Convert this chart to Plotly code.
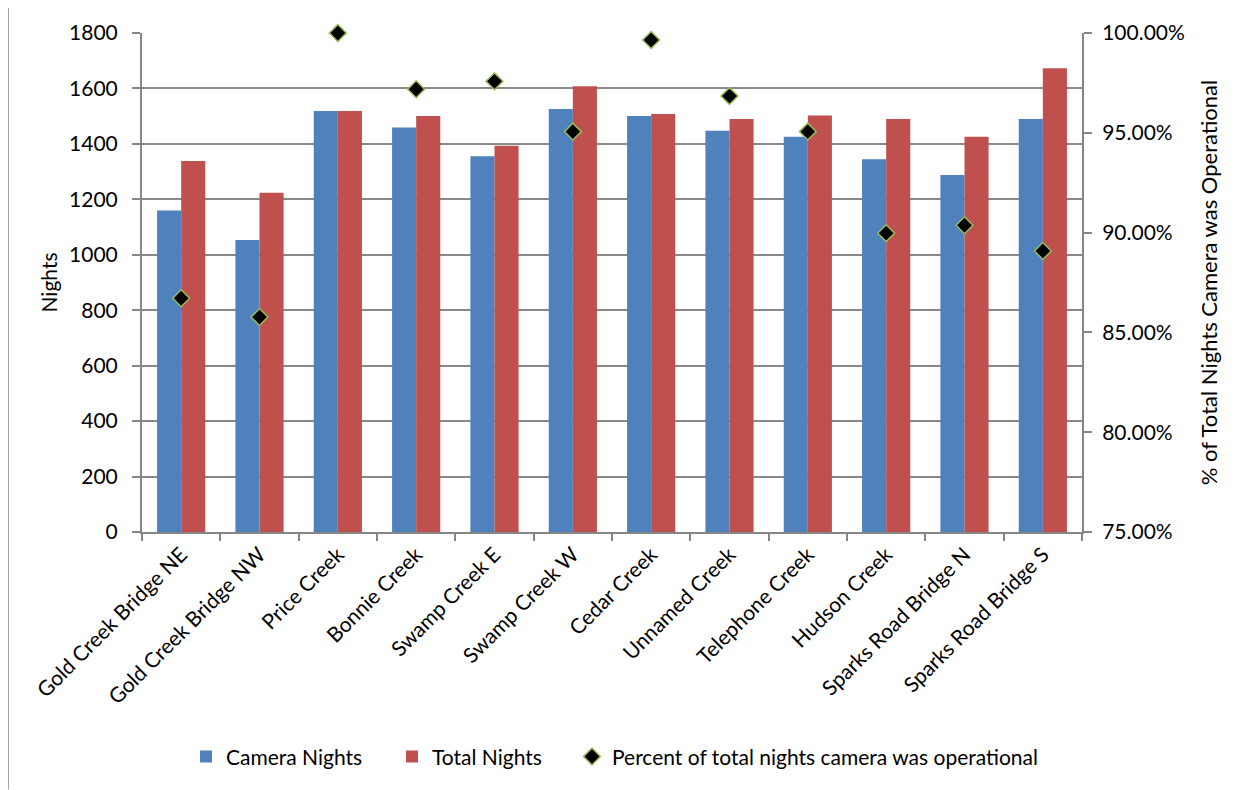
import plotly.graph_objects as go

categories = ["Gold Creek Bridge NE", "Gold Creek Bridge NW", "Price Creek", "Bonnie Creek",
              "Swamp Creek E", "Swamp Creek W", "Cedar Creek", "Unnamed Creek",
              "Telephone Creek", "Hudson Creek", "Sparks Road Bridge N", "Sparks Road Bridge S"]
camera_nights = [1160, 1053, 1519, 1459, 1355, 1526, 1501, 1447, 1426, 1345, 1288, 1490]
total_nights = [1338, 1224, 1519, 1501, 1393, 1608, 1508, 1490, 1502, 1490, 1426, 1673]
percent_operational = [0.8671, 0.8577, 1.0, 0.9718, 0.9758, 0.9506, 0.9965, 0.9684,
                       0.9506, 0.8997, 0.9037, 0.8908]
left_ticks = [0, 200, 400, 600, 800, 1000, 1200, 1400, 1600, 1800]
right_ticks = [0.75, 0.80, 0.85, 0.90, 0.95, 1.00]

FONT = "Lato"
AX = "#868686"
# page body has an 8px margin: plot area sits at screen x 142..1082, y 33..539
L, T, PW, PH = 134, 25, 940, 506
W, H = 1240, 782


def px_x(px):
    return (px - 142) / PW


def px_y(py):
    return (539 - py) / PH


fig = go.Figure()
fig.add_trace(go.Bar(x=categories, y=camera_nights, name="Camera Nights", legend="legend",
                     marker=dict(color="#4F81BD", line=dict(width=0))))
fig.add_trace(go.Bar(x=categories, y=total_nights, name="Total Nights", legend="legend2",
                     marker=dict(color="#C0504D", line=dict(width=0))))
fig.add_trace(go.Scatter(x=categories, y=percent_operational, yaxis="y2", mode="markers",
                         name="Percent of total nights camera was operational", legend="legend3",
                         marker=dict(symbol="diamond", size=13, color="black",
                                     line=dict(color="#9BBB59", width=1.5)),
                         cliponaxis=False))

leg_common = dict(orientation="h", yanchor="middle", xanchor="left", itemwidth=30,
                  font=dict(family=FONT, size=21), bgcolor="rgba(0,0,0,0)")

fig.update_layout(
    width=W, height=H,
    margin=dict(l=L, r=W - L - PW, t=T, b=H - T - PH),
    paper_bgcolor="white", plot_bgcolor="white",
    font=dict(family=FONT, size=21, color="black"),
    barmode="group", bargap=0.385, bargroupgap=0,
    showlegend=True,
    legend=dict(x=px_x(186), y=px_y(767), **leg_common),
    legend2=dict(x=px_x(392), y=px_y(767), **leg_common),
    legend3=dict(x=px_x(572), y=px_y(767), **leg_common),
    xaxis=dict(type="category", range=[-0.5, len(categories) - 0.5], autorange=False,
               showline=True, linecolor=AX, linewidth=2,
               ticks="outside", tickson="boundaries", ticklen=7, tickcolor=AX, tickwidth=1.5,
               tickangle=-45, showgrid=False, tickfont=dict(size=21)),
    yaxis=dict(range=[0, 1800], tickvals=left_ticks, showline=True, linecolor=AX, linewidth=2,
               ticks="outside", ticklen=8, tickcolor=AX, tickwidth=1.5, ticklabelstandoff=10,
               showgrid=True, gridcolor="#888888", gridwidth=1.6, zeroline=False,
               tickfont=dict(size=21),
               title=dict(text="Nights", standoff=6, font=dict(size=21))),
    yaxis2=dict(range=[0.75, 1.0], tickvals=right_ticks, tickformat=".2%", overlaying="y",
                side="right", showline=True, linecolor=AX, linewidth=2,
                ticks="outside", ticklen=8, tickcolor=AX, tickwidth=1.5, ticklabelstandoff=6,
                showgrid=False, zeroline=False, tickfont=dict(size=21),
                title=dict(text="% of Total Nights Camera was Operational", standoff=18,
                           font=dict(size=22))),
    shapes=[
        dict(type="line", xref="paper", yref="paper",
             x0=px_x(8), x1=px_x(1300), y0=px_y(7), y1=px_y(7),
             line=dict(color=AX, width=1.5), layer="below"),
        dict(type="line", xref="paper", yref="paper",
             x0=px_x(8), x1=px_x(8), y0=px_y(7), y1=px_y(800),
             line=dict(color=AX, width=1.5), layer="below"),
    ],
)

fig.write_html("out.html")
